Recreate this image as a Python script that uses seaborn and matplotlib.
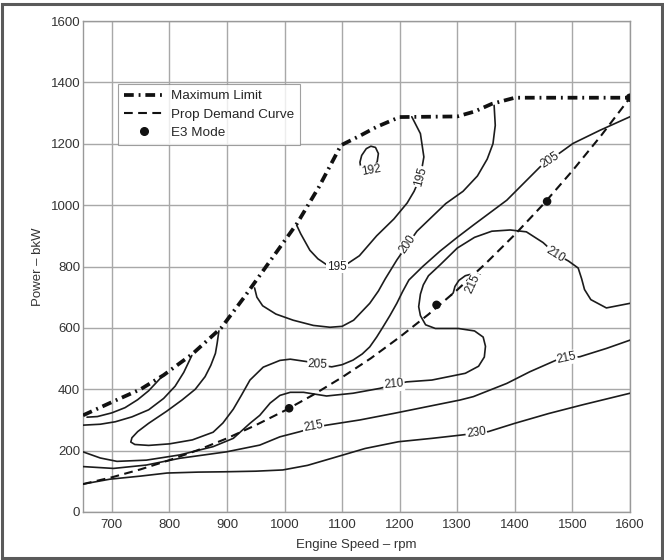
import matplotlib
matplotlib.use("Agg")
import matplotlib.pyplot as plt
import seaborn as sns
from matplotlib.lines import Line2D
from matplotlib.patches import Rectangle

# ---------------- data ----------------
X_TICKS = [700, 800, 900, 1000, 1100, 1200, 1300, 1400, 1500, 1600]
Y_TICKS = [0, 200, 400, 600, 800, 1000, 1200, 1400, 1600]

MAX_RPM = [650, 700, 750, 790, 840, 890, 930, 970, 1022, 1060, 1098, 1130, 1160, 1200, 1300, 1330, 1360, 1400, 1600]
MAX_KW = [315, 358, 400, 446, 515, 600, 700, 805, 941, 1060, 1195, 1225, 1255, 1287, 1289, 1305, 1330, 1350, 1350]

PROP_RPM = [650, 700, 750, 800, 850, 900, 950, 1000, 1050, 1100, 1150, 1200, 1250, 1300, 1350, 1400, 1450, 1500, 1550, 1600]
PROP_KW = [91, 113, 139, 169, 202, 240, 283, 330, 382, 439, 501, 570, 644, 724, 811, 904, 1004, 1112, 1227, 1350]

E3_RPM = [1008, 1264, 1456, 1600]
E3_KW = [338, 675, 1012, 1350]

C192_RPM = [1133, 1131, 1134, 1142, 1150, 1158, 1163, 1161, 1157]
C192_KW = [1112, 1140, 1162, 1184, 1192, 1188, 1168, 1142, 1128]

C195_RPM = [1021, 1028, 1044, 1058, 1073, 1091, 1110, 1130, 1160, 1190, 1213, 1225, 1236, 1242, 1236, 1221]
C195_KW = [935, 907, 853, 825, 806, 800, 810, 835, 900, 955, 1007, 1045, 1092, 1157, 1233, 1288]

C200_RPM = [948, 952, 962, 985, 1015, 1050, 1079, 1100, 1120, 1148, 1163, 1175, 1195, 1213, 1230, 1255, 1280, 1310, 1335, 1352, 1362, 1366, 1364]
C200_KW = [730, 700, 672, 645, 625, 608, 602, 605, 625, 680, 720, 760, 821, 870, 915, 960, 1005, 1045, 1095, 1150, 1200, 1260, 1325]

C205_RPM = [886, 883, 880, 872, 862, 845, 822, 795, 764, 745, 735, 733, 740, 764, 800, 840, 876, 893, 911, 925, 940, 963,
            992, 1010, 1039, 1058, 1082, 1100, 1119, 1135, 1148, 1160, 1171, 1183, 1195, 1205, 1216, 1240, 1270, 1300,
            1328, 1386, 1444, 1461, 1501, 1548, 1600]
C205_KW = [590, 550, 517, 478, 441, 400, 365, 328, 289, 262, 242, 228, 220, 217, 222, 235, 260, 290, 335, 380, 430, 472,
           494, 498, 490, 480, 473, 480, 495, 515, 538, 570, 603, 640, 680, 718, 756, 800, 850, 895,
           935, 1016, 1125, 1147, 1201, 1244, 1288]

C210_RPM = [650, 680, 709, 760, 818, 876, 911, 940, 957, 975, 992, 1010, 1033, 1073, 1119, 1166, 1190, 1212, 1256,
            1314, 1337, 1347, 1349, 1345, 1330, 1302, 1262, 1245, 1236, 1233, 1236, 1241, 1250, 1270, 1300, 1330,
            1360, 1392, 1420, 1449, 1470, 1493, 1510, 1516, 1521, 1532, 1559, 1600]
C210_KW = [196, 176, 165, 169, 186, 213, 240, 289, 315, 355, 380, 390, 390, 378, 387, 403, 415, 424, 430,
           452, 475, 505, 540, 570, 590, 598, 598, 610, 640, 669, 710, 740, 770, 805, 860, 895,
           915, 919, 913, 878, 842, 818, 795, 760, 725, 692, 665, 680]

C210B_RPM = [650, 680, 706, 735, 764, 790, 810, 825, 839]
C210B_KW = [283, 286, 294, 310, 333, 370, 410, 455, 510]

C215B_RPM = [657, 675, 700, 723, 745, 764, 787]
C215B_KW = [309, 311, 323, 340, 366, 395, 441]

C215_RPM = [650, 703, 760, 818, 899, 957, 992, 1027, 1050, 1073, 1131, 1189, 1247, 1305, 1328, 1386, 1426, 1472,
            1490, 1513, 1559, 1600]
C215_KW = [148, 142, 153, 175, 196, 218, 245, 262, 275, 283, 300, 321, 343, 365, 376, 419, 457, 495,
           501, 506, 533, 560]

C215S_RPM = [1289, 1293, 1296, 1303, 1314, 1328, 1340]
C215S_KW = [706, 714, 735, 755, 770, 777, 772]

C230_RPM = [650, 697, 750, 796, 850, 894, 950, 997, 1040, 1082, 1140, 1198, 1256, 1308, 1354, 1400, 1459, 1517, 1600]
C230_KW = [91, 107, 117, 127, 130, 131, 133, 137, 152, 175, 207, 229, 240, 251, 262, 289, 321, 349, 387]

LABEL_TEXT = ["192", "195", "195", "200", "205", "205", "210", "210", "215", "215", "215", "230"]
LABEL_RPM = [1150, 1091, 1236, 1213, 1058, 1461, 1190, 1470, 1050, 1490, 1328, 1333]
LABEL_KW = [1112, 800, 1092, 872, 480, 1147, 415, 840, 278, 502, 745, 257]
LABEL_ROT = [10, 0, 75, 55, -3, 33, 5, -32, 10, 12, 65, 8]

# ---------------- styling ----------------
sns.set_theme(style="whitegrid")
plt.rcParams['font.family'] = ['Liberation Sans', 'DejaVu Sans']

fig = plt.figure(figsize=(6.64, 5.6), dpi=100)
fig.patch.set_facecolor('white')
ax = fig.add_axes([83 / 664, 48 / 560, 547 / 664, 491 / 560])
ax.set_facecolor('white')

line_kw = dict(color='#1c1c1c', linewidth=1.2, sort=False, estimator=None, ax=ax, legend=False)
contours = [(C192_RPM, C192_KW), (C195_RPM, C195_KW), (C200_RPM, C200_KW), (C205_RPM, C205_KW),
            (C210_RPM, C210_KW), (C210B_RPM, C210B_KW), (C215B_RPM, C215B_KW), (C215_RPM, C215_KW),
            (C215S_RPM, C215S_KW), (C230_RPM, C230_KW)]
for xs, ys in contours:
    sns.lineplot(x=xs, y=ys, zorder=3, **line_kw)

max_style = (0, (2.6, 1.3, 0.5, 1.3))
prop_style = (0, (4.2, 2.6))
sns.lineplot(x=MAX_RPM, y=MAX_KW, sort=False, estimator=None, ax=ax, legend=False,
             color='#111111', linewidth=2.7, linestyle=max_style, zorder=4)
sns.lineplot(x=PROP_RPM, y=PROP_KW, sort=False, estimator=None, ax=ax, legend=False,
             color='#111111', linewidth=1.5, linestyle=prop_style, zorder=4)
sns.scatterplot(x=E3_RPM, y=E3_KW, ax=ax, color='#111111', s=38, edgecolor='none', zorder=6, legend=False)

for t, xr, yk, r in zip(LABEL_TEXT, LABEL_RPM, LABEL_KW, LABEL_ROT):
    ax.text(xr, yk, t, rotation=r, rotation_mode='anchor', ha='center', va='center', fontsize=8.5,
            color='#222222', zorder=5,
            bbox=dict(boxstyle='square,pad=0.08', fc='white', ec='none'))

ax.set_xlim(650, 1600)
ax.set_ylim(0, 1600)
ax.set_xticks(X_TICKS)
ax.set_yticks(Y_TICKS)
ax.grid(True, color='#a8a8a8', linewidth=1.0)
ax.tick_params(axis='both', labelsize=9.5, colors='#333333', length=0)
ax.tick_params(axis='x', pad=5)
ax.tick_params(axis='y', pad=2)
for s in ax.spines.values():
    s.set_color('#999999')
    s.set_linewidth(1.0)
ax.set_xlabel('Engine Speed – rpm', fontsize=9.5, color='#333333', labelpad=6)
ax.set_ylabel('Power – bkW', fontsize=9.5, color='#333333', labelpad=5)

handles = [
    Line2D([], [], color='#111111', linewidth=2.7, linestyle=max_style),
    Line2D([], [], color='#111111', linewidth=1.5, linestyle=prop_style),
    Line2D([], [], color='#111111', linestyle='none', marker='o', markersize=5.5),
]
leg = ax.legend(handles, ['Maximum Limit', 'Prop Demand Curve', 'E3 Mode'],
                loc='upper left', bbox_to_anchor=((118 - 83) / 547, (512 - 84) / 491),
                borderaxespad=0, fontsize=9.7, frameon=True, fancybox=False,
                handlelength=3.0, handletextpad=0.45, borderpad=0.45, labelspacing=0.42)
leg.get_frame().set_edgecolor('#888888')
leg.get_frame().set_linewidth(0.8)
leg.set_zorder(10)

# scanned page frame
fig.add_artist(Rectangle((0.003, 0.004), 0.994, 0.989, transform=fig.transFigure,
                         fill=False, edgecolor='#5a5a5a', linewidth=2.2))

fig.savefig('out.png', dpi=100)
